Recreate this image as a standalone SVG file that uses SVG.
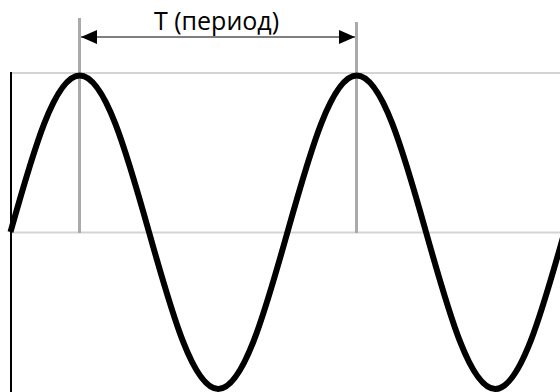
<svg xmlns="http://www.w3.org/2000/svg" width="560" height="392" viewBox="0 0 560 392">
  <style>
    .guide { stroke: #d4d4d4; stroke-width: 2; fill: none; }
    .marker-line { stroke: #aaaaaa; stroke-width: 3; fill: none; }
    .axis { stroke: #000; stroke-width: 2; fill: none; }
    .wave { stroke: #000; stroke-width: 6; fill: none; stroke-linejoin: round; }
    .dim { stroke: #000; stroke-width: 1.2; fill: none; }
    .label { font-family: "Open Sans", "DejaVu Sans", sans-serif; font-size: 25px; fill: #000; }
  </style>
  <defs>
    <marker id="ah" viewBox="0 0 16 14" refX="16" refY="7" markerWidth="16" markerHeight="14" markerUnits="userSpaceOnUse" orient="auto-start-reverse">
      <path d="M0,0 L16,7 L0,14 Z" fill="#000"/>
    </marker>
  </defs>
  <rect width="560" height="392" fill="#fff"/>
  <g id="guides">
    <line class="guide" x1="11" y1="73" x2="560" y2="73"/>
    <line class="guide" x1="11" y1="232.5" x2="560" y2="232.5"/>
  </g>
  <g id="period-markers">
    <line class="marker-line" x1="79.5" y1="18" x2="79.5" y2="233"/>
    <line class="marker-line" x1="356.5" y1="22" x2="356.5" y2="233"/>
  </g>
  <g id="axis">
    <line class="axis" x1="11" y1="72" x2="11" y2="392"/>
  </g>
  <g id="wave">
    <path class="wave" d="M10.5,232 C33.09,151.57 54.69,75.5 79.75,75.5 C104.81,75.5 126.41,151.57 149,232 C171.59,312.43 193.19,389 218.25,389 C243.31,389 264.91,312.43 287.5,232 C310.09,151.57 331.69,75.5 356.75,75.5 C381.81,75.5 403.41,151.57 426,232 C448.59,312.43 470.19,389 495.25,389 C520.31,389 541.91,312.43 564.5,232"/>
  </g>
  <g id="connectors">
    <line class="dim" x1="81" y1="37" x2="355" y2="37" marker-start="url(#ah)" marker-end="url(#ah)"/>
  </g>
  <g id="period-label">
    <text class="label" x="216.5" y="30" text-anchor="middle">T (период)</text>
  </g>
</svg>
